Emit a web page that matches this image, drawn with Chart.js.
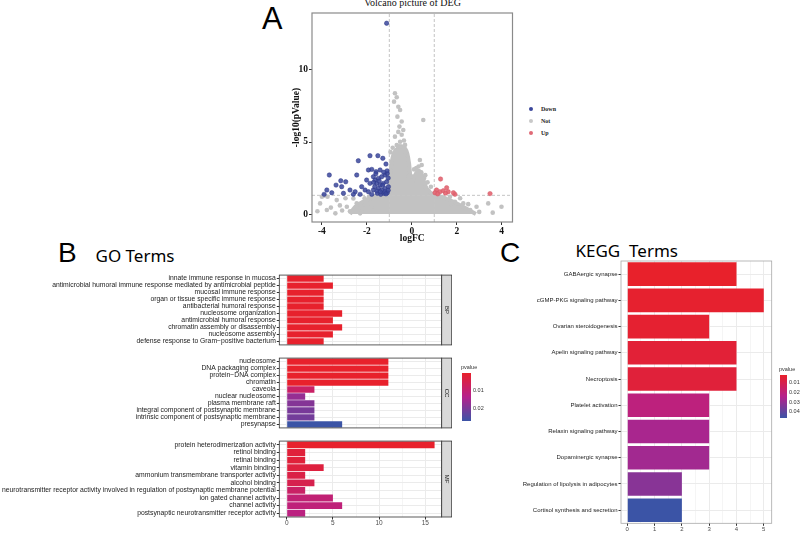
<!DOCTYPE html>
<html lang="en">
<head>
<meta charset="UTF-8">
<title>Volcano, GO and KEGG</title>
<script src="https://cdn.jsdelivr.net/npm/chart.js"></script>
<style>
  body { margin:0; width:800px; height:533px; position:relative; overflow:hidden; background:#fff;
         font-family:"Liberation Sans", Arial, sans-serif; }
  canvas, .t, .bar { position:absolute; }
  .t { white-space:pre; line-height:1; }
  .letter { font-size:30.7px; color:#000; }
  .head { font-family:"Noto Sans", sans-serif; font-size:17px; color:#000; }
  .serif { font-family:"Liberation Serif", serif; }
  .leg { font-family:"Liberation Serif", serif; font-weight:bold; font-size:6px; color:#222; }
  .dot { position:absolute; width:4px; height:4px; border-radius:50%; }
  .small { font-size:5.5px; color:#333; }
</style>
</head>
<body>
  <div class="t letter" style="left:262px;top:4px;">A</div>
  <div class="t letter" style="left:58px;top:239px;font-size:28px;">B</div>
  <div class="t letter" style="left:500px;top:239px;font-size:28px;">C</div>
  <div class="t head" style="left:95.5px;top:246.5px;">GO Terms</div>
  <div class="t head" style="left:575.5px;top:242px;">KEGG  Terms</div>
  <div class="t serif" style="left:312px;top:-2px;width:201px;text-align:center;font-size:10px;color:#111;">Volcano picture of DEG</div>

  <div class="dot" style="left:529px;top:107px;background:#3A469B;"></div>
  <div class="t leg" style="left:541px;top:106px;">Down</div>
  <div class="dot" style="left:529px;top:119px;background:#C8C8C8;"></div>
  <div class="t leg" style="left:541px;top:118px;">Not</div>
  <div class="dot" style="left:529px;top:131px;background:#E06A76;"></div>
  <div class="t leg" style="left:541px;top:130px;">Up</div>

  <canvas id="volcano" width="230" height="250" style="left:287px;top:0px;"></canvas>
  <canvas id="goBP" width="452" height="80" style="left:0px;top:270px;"></canvas>
  <canvas id="goCC" width="452" height="80" style="left:0px;top:353px;"></canvas>
  <canvas id="goMF" width="452" height="91" style="left:0px;top:436px;"></canvas>
  <canvas id="kegg" width="340" height="278" style="left:460px;top:255px;"></canvas>

  <div id="goLegend"></div>
  <div id="keggLegend"></div>

<script>
// ---- volcano data (logFC, -log10 p) ----
const fcCut = 1;
const pCut = 1.3;
const volcanoXTicks = [-4, -2, 0, 2, 4];
const volcanoYTicks = [0, 5, 10];
const downPoints = [
  [-1.12,13.24],[-3.67,2.71],[-2.38,3.70],[-1.86,4.05],[-1.51,4.05],[-1.29,3.87],[-1.15,3.47],
  [-1.93,3.06],[-1.78,3.10],[-1.59,2.94],[-1.41,3.06],[-2.45,2.71],[-3.16,2.31],[-2.94,2.24],
  [-3.37,2.01],[-3.12,1.90],[-2.75,1.67],[-3.56,1.48],[-3.78,1.67],[-3.90,1.37],[-3.04,1.44],
  [-2.52,1.55],[-2.23,1.90],[-2.08,1.67],[-1.93,1.55],[-1.71,2.59],[-1.63,2.36],[-1.49,2.48],
  [-1.34,2.59],[-1.19,2.71],[-1.09,2.82],[-1.56,2.13],[-1.41,2.01],[-1.27,2.13],[-1.12,2.24],
  [-1.49,1.78],[-1.34,1.67],[-1.19,1.78],[-1.04,1.90],[-1.53,1.44],[-1.38,1.37],[-1.24,1.44],
  [-1.09,1.48],[-1.71,1.67],[-1.86,2.13],[-2.01,2.36],[-1.78,1.37],[-2.30,1.37],[-2.60,1.37],
  [-1.60,2.80],[-1.45,2.30],[-1.30,2.00],[-1.20,1.55],[-1.65,1.90],[-1.55,1.60],[-1.05,2.50],
  [-1.10,3.00],[-1.25,2.90],[-1.70,2.20],[-1.15,1.40],[-1.05,1.65],[-1.40,1.55]
];
const upPoints = [
  [1.28,2.43],[1.55,1.83],[1.10,1.67],[1.25,1.55],[1.40,1.62],[1.62,1.55],[1.03,1.48],
  [1.92,1.37],[3.48,1.42],[1.85,1.48],[1.50,1.45],[1.15,1.40]
];
const notPoints = [
  [-0.75,8.38],[-0.67,8.10],[-0.79,7.80],[-0.60,7.45],[-0.52,7.22],[-0.64,6.76],[-0.45,6.42],
  [-0.55,6.07],[0.51,6.53],[-0.38,5.83],[-0.75,5.37],[-0.52,5.02],[-0.67,4.79],[0.36,3.75],
  [0.44,3.40],[-0.45,5.50],[-0.60,5.70],[-0.85,4.60],[-0.30,4.80],
  [2.29,0.74],[2.88,0.51],[3.99,0.51],[3.40,0.74],[2.60,0.28],[1.92,0.86],[1.70,1.20],
  [2.15,1.10],[1.20,1.25],[1.45,1.10],[0.90,1.30],[0.75,1.60],[0.60,1.90],[2.40,0.20],
  [3.00,0.15],[3.60,0.10],[2.10,0.45],[1.75,0.70],[0.70,2.20],[0.55,2.50],[2.51,0.69],
  [-4.00,1.20],[-4.08,0.74],[-3.78,0.28],[-3.34,0.97],[-2.89,0.51],[-2.60,1.08],[-3.40,0.05],
  [-2.30,0.05],[-3.20,0.60],[-3.90,1.28],[-3.75,1.20],[-3.60,0.45],[-2.95,1.10],[-2.75,0.20],
  [-2.45,0.75],[-2.10,1.10],[-1.90,1.20],[-1.60,1.25],[-1.30,1.28],[-4.20,0.20],[-3.10,0.25],
  [-2.20,0.40],[-1.80,0.50],
  [-0.95,3.00],[-0.90,3.60],[-0.80,4.10],[-0.70,4.40],[-0.55,4.70],[-0.40,4.65],[-0.28,4.30],
  [-0.22,3.50],[-0.15,2.60],[0.05,2.60],[0.20,3.20],[0.30,3.30],[0.42,2.90],[0.50,2.30],
  [-0.95,4.30],[-0.35,5.10],[0.10,3.10],[0.60,2.70],[0.85,1.90],[1.05,1.20]
];
// outline of the dense grey cloud of non-significant genes
const notCloud = [
  [-2.75,0],[-2.55,0.45],[-2.25,0.78],[-1.95,1.02],[-1.65,1.22],[-1.35,1.30],[-1.02,1.32],
  [-0.98,2.60],[-0.92,3.30],[-0.85,3.95],[-0.75,4.35],[-0.60,4.60],[-0.45,4.70],[-0.30,4.55],
  [-0.20,4.20],[-0.12,3.50],[-0.06,2.60],[0.02,2.20],[0.10,2.50],[0.20,2.85],[0.32,3.00],
  [0.45,2.70],[0.55,2.20],[0.65,1.80],[0.82,1.50],[1.00,1.32],[1.30,1.20],[1.60,1.02],
  [1.90,0.82],[2.20,0.58],[2.50,0.32],[2.85,0]
];

// ---- GO data ----
const bpTerms = ['innate immune response in mucosa',
  'antimicrobial humoral immune response mediated by antimicrobial peptide',
  'mucosal immune response', 'organ or tissue specific immune response',
  'antibacterial humoral response', 'nucleosome organization', 'antimicrobial humoral response',
  'chromatin assembly or disassembly', 'nucleosome assembly',
  'defense response to Gram\u2212positive bacterium'];
const bpCounts = [4, 5, 4, 4, 4, 6, 5, 6, 5, 4];
const bpPvalues = [0.0003, 0.0003, 0.0003, 0.0003, 0.0003, 0.0003, 0.0003, 0.0003, 0.0003, 0.0003];

const ccTerms = ['nucleosome', 'DNA packaging complex', 'protein\u2212DNA complex', 'chromatin',
  'caveola', 'nuclear nucleosome', 'plasma membrane raft',
  'integral component of postsynaptic membrane', 'intrinsic component of postsynaptic membrane',
  'presynapse'];
const ccCounts = [11, 11, 11, 11, 3, 2, 3, 3, 3, 6];
const ccPvalues = [0.0001, 0.0001, 0.0001, 0.0001, 0.008, 0.0168, 0.0187, 0.020, 0.0206, 0.0267];

const mfTerms = ['protein heterodimerization activity', 'retinol binding', 'retinal binding',
  'vitamin binding', 'ammonium transmembrane transporter activity', 'alcohol binding',
  'neurotransmitter receptor activity involved in regulation of postsynaptic membrane potential',
  'ion gated channel activity', 'channel activity', 'postsynaptic neurotransmitter receptor activity'];
const mfCounts = [16, 2, 2, 4, 2, 3, 2, 5, 6, 2];
const mfPvalues = [0.0001, 0.002, 0.002, 0.0027, 0.0037, 0.0048, 0.008, 0.0101, 0.0107, 0.0117];

const goXTicks = [0, 2.5, 5, 7.5, 10, 12.5, 15];
const goLegendTicks = [0.01, 0.02];
const goPRange = [0, 0.0267];

// ---- KEGG data ----
const keggTerms = ['GABAergic synapse', 'cGMP-PKG signaling pathway', 'Ovarian steroidogenesis',
  'Apelin signaling pathway', 'Necroptosis', 'Platelet activation', 'Relaxin signaling pathway',
  'Dopaminergic synapse', 'Regulation of lipolysis in adipocytes', 'Cortisol synthesis and secretion'];
const keggCounts = [4, 5, 3, 4, 4, 3, 3, 3, 2, 2];
const keggPvalues = [0.0018, 0.0027, 0.0031, 0.0045, 0.0053, 0.0204, 0.026, 0.0274, 0.032, 0.046];
const keggXTicks = [0, 0.5, 1, 1.5, 2, 2.5, 3, 3.5, 4, 4.5, 5];
const keggLegendTicks = [0.01, 0.02, 0.03, 0.04];
const keggPRange = [0.0018, 0.046];

Chart.defaults.font.family = '"Liberation Sans", Arial, sans-serif';

const gradStops = [[232, 33, 43], [181, 33, 140], [59, 84, 166]];
function gradColor(p, range) {
  let t = (p - range[0]) / (range[1] - range[0]);
  t = Math.max(0, Math.min(1, t));
  const s = t < 0.5 ? 0 : 1;
  const f = (t - s * 0.5) / 0.5;
  const a = gradStops[s], b = gradStops[s + 1];
  return 'rgb(' + a.map((v, i) => Math.round(v + (b[i] - v) * f)).join(',') + ')';
}
const cssGradient = 'linear-gradient(to bottom, rgb(232,33,43), rgb(181,33,140), rgb(59,84,166))';

// box around the plot area, plus the facet strip on the right for GO
const framePlugin = {
  id: 'frame',
  afterDatasetsDraw(chart, args, o) {
    const { ctx, chartArea: a } = chart;
    ctx.save();
    ctx.lineWidth = o.width;
    ctx.strokeStyle = o.color;
    ctx.strokeRect(a.left, a.top, a.width, a.height);
    if (o.strip) {
      ctx.fillStyle = '#D9D9D9';
      ctx.fillRect(a.right, a.top, 10, a.height);
      ctx.strokeRect(a.right, a.top, 10, a.height);
      ctx.translate(a.right + 5, (a.top + a.bottom) / 2);
      ctx.rotate(Math.PI / 2);
      ctx.fillStyle = '#1A1A1A';
      ctx.font = '6px "Liberation Sans"';
      ctx.textAlign = 'center';
      ctx.textBaseline = 'middle';
      ctx.fillText(o.strip, 0, 0);
    }
    ctx.restore();
  }
};

const toXY = arr => arr.map(([x, y]) => ({ x, y }));
const vxMin = -4.44, vxMax = 4.48, vyMin = -0.55, vyMax = 13.95;
const serifBold = { family: '"Liberation Serif", serif', weight: 'bold', size: 9.5 };

new Chart(document.getElementById('volcano'), {
  type: 'scatter',
  data: {
    datasets: [
      { data: toXY(downPoints), backgroundColor: 'rgba(58,70,155,0.85)', borderColor: '#2E3888',
        borderWidth: 0.5, pointRadius: 2.2, order: 1 },
      { data: toXY(upPoints), backgroundColor: 'rgba(226,100,112,0.9)', borderColor: '#D65A68',
        borderWidth: 0.5, pointRadius: 2.2, order: 1 },
      { data: [{ x: -fcCut, y: vyMin }, { x: -fcCut, y: vyMax }], showLine: true, pointRadius: 0,
        borderColor: '#C4C4C4', borderWidth: 1, borderDash: [3, 2], order: 2 },
      { data: [{ x: fcCut, y: vyMin }, { x: fcCut, y: vyMax }], showLine: true, pointRadius: 0,
        borderColor: '#C4C4C4', borderWidth: 1, borderDash: [3, 2], order: 2 },
      { data: [{ x: vxMin, y: pCut }, { x: vxMax, y: pCut }], showLine: true, pointRadius: 0,
        borderColor: '#C4C4C4', borderWidth: 1, borderDash: [3, 2], order: 2 },
      { data: toXY(notPoints), backgroundColor: '#C2C2C2', borderWidth: 0, pointRadius: 2.3, order: 3 },
      { data: toXY(notCloud), showLine: true, fill: 'origin', tension: 0.25, pointRadius: 0,
        backgroundColor: '#C2C2C2', borderColor: '#C2C2C2', borderWidth: 4, order: 4 }
    ]
  },
  options: {
    responsive: false, animation: false,
    layout: { padding: { top: 13, right: 4, bottom: 2, left: 0 } },
    plugins: { legend: { display: false }, tooltip: { enabled: false },
               frame: { color: '#8A8A8A', width: 1.2 } },
    scales: {
      x: { type: 'linear', min: vxMin, max: vxMax,
           afterBuildTicks: s => { s.ticks = volcanoXTicks.map(v => ({ value: v })); },
           afterFit: s => { s.height = 26; },
           grid: { drawOnChartArea: false, tickLength: 3, tickColor: '#333' },
           border: { display: false },
           ticks: { font: serifBold, color: '#111', padding: 1, maxRotation: 0 },
           title: { display: true, text: 'logFC', font: serifBold, color: '#111', padding: { top: 4, bottom: 4 } } },
      y: { type: 'linear', min: vyMin, max: vyMax,
           afterBuildTicks: s => { s.ticks = volcanoYTicks.map(v => ({ value: v })); },
           afterFit: s => { s.width = 25; },
           grid: { drawOnChartArea: false, tickLength: 3, tickColor: '#333' },
           border: { display: false },
           ticks: { font: serifBold, color: '#111', padding: 1 },
           title: { display: true, text: '-log10(pValue)', font: serifBold, color: '#111', padding: { top: 4, bottom: 4 } } }
    }
  },
  plugins: [framePlugin]
});

function goPanel(id, terms, counts, pvals, strip, showX) {
  new Chart(document.getElementById(id), {
    type: 'bar',
    data: { labels: terms,
      datasets: [{ data: counts, backgroundColor: pvals.map(p => gradColor(p, goPRange)),
                   barPercentage: 0.9, categoryPercentage: 1 }] },
    options: {
      indexAxis: 'y', responsive: false, animation: false,
      layout: { padding: { left: 0, right: 10.3, top: 0, bottom: 0 } },
      plugins: { legend: { display: false }, tooltip: { enabled: false },
                 frame: { color: '#333', width: 0.8, strip: strip } },
      scales: {
        x: { type: 'linear', min: -0.8, max: 16.77,
             afterBuildTicks: s => { s.ticks = goXTicks.map(v => ({ value: v })); },
             afterFit: s => { s.height = showX ? 10 : 0; },
             grid: { color: c => (c.tick && c.tick.value % 5 === 0) ? '#EBEBEB' : '#F5F5F5',
                     drawTicks: showX, tickLength: 2.5,
                     tickColor: c => (c.tick && c.tick.value % 5 === 0) ? '#333' : 'rgba(0,0,0,0)' },
             border: { display: false },
             ticks: { display: showX, callback: v => (v % 5 === 0 ? v : ''), font: { size: 6.5 },
                      color: '#4D4D4D', padding: 0, maxRotation: 0, autoSkip: false } },
        y: { afterFit: s => { s.width = 279.3; }, offset: true,
             grid: { offset: false, color: '#EBEBEB', tickLength: 2.5, tickColor: '#333' },
             border: { display: false },
             ticks: { font: { size: 6.8 }, color: '#222', padding: 1, autoSkip: false } }
      }
    },
    plugins: [framePlugin]
  });
}
goPanel('goBP', bpTerms, bpCounts, bpPvalues, 'BP', false);
goPanel('goCC', ccTerms, ccCounts, ccPvalues, 'CC', false);
goPanel('goMF', mfTerms, mfCounts, mfPvalues, 'MF', true);

new Chart(document.getElementById('kegg'), {
  type: 'bar',
  data: { labels: keggTerms,
    datasets: [{ data: keggCounts, backgroundColor: keggPvalues.map(p => gradColor(p, keggPRange)),
                 barPercentage: 0.9, categoryPercentage: 1 }] },
  options: {
    indexAxis: 'y', responsive: false, animation: false,
    layout: { padding: { left: 0, right: 28.3, top: 6, bottom: 0 } },
    plugins: { legend: { display: false }, tooltip: { enabled: false },
               frame: { color: '#A8A8A8', width: 0.8 } },
    scales: {
      x: { type: 'linear', min: -0.23, max: 5.29,
           afterBuildTicks: s => { s.ticks = keggXTicks.map(v => ({ value: v })); },
           afterFit: s => { s.height = 9.7; },
           grid: { color: c => (c.tick && Number.isInteger(c.tick.value)) ? '#EBEBEB' : '#F5F5F5',
                   tickLength: 2.5,
                   tickColor: c => (c.tick && Number.isInteger(c.tick.value)) ? '#333' : 'rgba(0,0,0,0)' },
           border: { display: false },
           ticks: { callback: v => (Number.isInteger(v) ? v : ''), font: { size: 6 }, color: '#4D4D4D',
                    padding: 0, maxRotation: 0, autoSkip: false } },
      y: { afterFit: s => { s.width = 161; }, offset: true,
           grid: { offset: false, color: '#EBEBEB', tickLength: 2.5, tickColor: '#333' },
           border: { display: false },
           ticks: { font: { size: 6 }, color: '#222', padding: 1, autoSkip: false } }
    }
  },
  plugins: [framePlugin]
});

// colour bar legends
function colorLegend(el, left, top, w, h, range, ticks) {
  let html = '<div class="t small" style="left:' + (left - 1) + 'px;top:' + (top - 8) + 'px;">pvalue</div>';
  html += '<div class="bar" style="left:' + left + 'px;top:' + top + 'px;width:' + w + 'px;height:' + h +
          'px;background:' + cssGradient + ';"></div>';
  ticks.forEach(v => {
    const y = top + (v - range[0]) / (range[1] - range[0]) * h;
    html += '<div class="t small" style="left:' + (left + w + 2) + 'px;top:' + (y - 2.8) + 'px;">' + v.toFixed(2) + '</div>';
  });
  document.getElementById(el).innerHTML = html;
}
colorLegend('goLegend', 462, 373, 9, 48, goPRange, goLegendTicks);
colorLegend('keggLegend', 780, 375, 7, 43, keggPRange, keggLegendTicks);
</script>
</body>
</html>
